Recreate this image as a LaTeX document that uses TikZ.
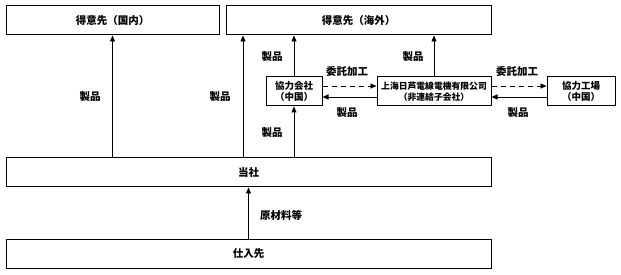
\documentclass[tikz,border=0pt]{standalone}
\usepackage{fontspec}
\setmainfont{Noto Sans CJK JP}
\usetikzlibrary{arrows.meta}

\tikzset{
  box/.style={draw, line width=1pt, minimum height=29pt, inner sep=1pt,
              align=center, font=\bfseries\fontsize{10.5}{12}\selectfont},
  smallbox/.style={box, font=\bfseries\fontsize{9.5}{11}\selectfont},
  lbl/.style={font=\bfseries\fontsize{10.5}{12}\selectfont, inner sep=0pt},
  arr/.style={line width=0.8pt, -{Triangle[length=6pt,width=5pt]}},
  darr/.style={arr, dash pattern=on 5pt off 4pt}
}

\begin{document}
\begin{tikzpicture}[x=1pt, y=-1pt]
    \useasboundingbox (0,0) rectangle (621,275);
    % boxes
    \node[box, minimum width=213pt] (kokunai) at (112.5,20.5) {得意先（国内）};
    \node[box, minimum width=265pt] (kaigai) at (358.5,20.5) {得意先（海外）};
    \node[smallbox, minimum width=56pt] (kyoryoku) at (294,91.5) {協力会社\\（中国）};
    \node[smallbox, minimum width=114pt, font=\bfseries\fontsize{8.8}{11}\selectfont]
         (shanghai) at (434,91.5) {上海日芦電線電機有限公司\\（非連結子会社）};
    \node[smallbox, minimum width=68pt] (kojo) at (581,91.5) {協力工場\\（中国）};
    \node[box, minimum width=485pt] (tosha) at (248.5,172.5) {当社};
    \node[box, minimum width=485pt] (shiire) at (248.5,253.5) {仕入先};
    \coordinate (c1) at (243,0);

    % arrows
    \draw[arr] (tosha.north -| kokunai.south) -- (kokunai.south);
    \draw[arr] (tosha.north -| c1) -- (kaigai.south -| c1);
    \draw[arr] (tosha.north -| kyoryoku.south) -- (kyoryoku.south);
    \draw[arr] (kyoryoku.north) -- (kaigai.south -| kyoryoku.north);
    \draw[arr] (shanghai.north) -- (kaigai.south -| shanghai.north);
    \draw[arr] (shiire.north) -- (tosha.south);
    \draw[darr] ([yshift=5.5pt]kyoryoku.east) -- ([yshift=5.5pt]shanghai.west);
    \draw[arr] ([yshift=-5.5pt]shanghai.west) -- ([yshift=-5.5pt]kyoryoku.east);
    \draw[darr] ([yshift=5.5pt]shanghai.east) -- ([yshift=5.5pt]kojo.west);
    \draw[arr] ([yshift=-5.5pt]kojo.west) -- ([yshift=-5.5pt]shanghai.east);

    % labels
    \node[lbl] (l1) at (90,97) {製品};
    \node[lbl] (l2) at (220,97) {製品};
    \node[lbl] (l3) at (272,57) {製品};
    \node[lbl] (l4) at (272,133) {製品};
    \node[lbl] (l5) at (413,57) {製品};
    \node[lbl] (l6) at (347,113) {製品};
    \node[lbl] (l7) at (518,113) {製品};
    \node[lbl] (i1) at (347,72) {委託加工};
    \node[lbl] (i2) at (517,72) {委託加工};
    \node[lbl] (m1) at (281,215) {原材料等};
  \end{tikzpicture}
\end{document}
